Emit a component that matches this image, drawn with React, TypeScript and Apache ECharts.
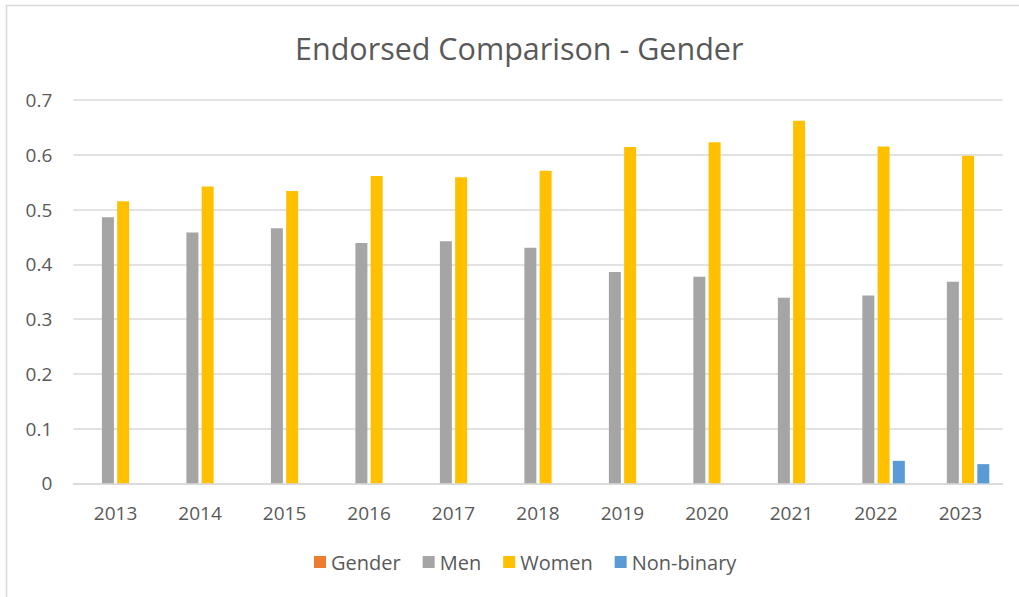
import React, { useEffect, useRef } from "react";
import * as echarts from "echarts";

const categories = ["2013", "2014", "2015", "2016", "2017", "2018", "2019", "2020", "2021", "2022", "2023"];
const genderValues: (number | null)[] = [null, null, null, null, null, null, null, null, null, null, null];
const menValues = [0.486, 0.458, 0.466, 0.439, 0.442, 0.43, 0.386, 0.377, 0.339, 0.343, 0.368];
const womenValues = [0.515, 0.542, 0.534, 0.561, 0.559, 0.571, 0.614, 0.623, 0.662, 0.615, 0.598];
const nonBinaryValues: (number | null)[] = [null, null, null, null, null, null, null, null, null, 0.041, 0.035];

const FONT = "'Open Sans', 'Noto Sans', sans-serif";
const TEXT = "#595959";

export default function App() {
  const ref = useRef<HTMLDivElement>(null);
  useEffect(() => {
    if (!ref.current) return;
    const chart = echarts.init(ref.current, undefined, { renderer: "svg" });
    const mk = (name: string, data: (number | null)[], color: string) => ({
      name,
      type: "bar",
      data,
      barWidth: 12,
      barGap: "27%",
      itemStyle: { color },
    });
    chart.setOption({
      animation: false,
      backgroundColor: "#ffffff",
      textStyle: { fontFamily: FONT },
      title: {
        text: "Endorsed Comparison - Gender",
        left: 290,
        top: 27,
        textStyle: { fontFamily: FONT, fontSize: 30.5, fontWeight: "normal", color: TEXT },
      },
      legend: {
        left: 309,
        top: 547,
        itemWidth: 12,
        itemHeight: 12,
        itemGap: 22,
        icon: "rect",
        textStyle: { fontFamily: FONT, fontSize: 20, color: TEXT },
        data: ["Gender", "Men", "Women", "Non-binary"],
      },
      grid: { left: 73.3, right: 16.3, top: 100, bottom: 113.7, containLabel: false },
      xAxis: {
        type: "category",
        data: categories,
        axisLine: { lineStyle: { color: "#D9D9D9", width: 1.5 } },
        axisTick: { show: false },
        axisLabel: { fontFamily: FONT, fontSize: 19, color: TEXT, margin: 20 },
      },
      yAxis: {
        type: "value",
        min: 0,
        max: 0.7,
        interval: 0.1,
        axisLine: { show: false },
        axisTick: { show: false },
        splitLine: { lineStyle: { color: "#D9D9D9", width: 1.5 } },
        axisLabel: {
          fontFamily: FONT,
          fontSize: 19,
          color: TEXT,
          margin: 21,
          formatter: (v: number) => (v === 0 ? "0" : v.toFixed(1)),
        },
      },
      graphic: [
        {
          type: "rect",
          shape: { x: 6.5, y: 5.5, width: 1100, height: 700 },
          style: { fill: "none", stroke: "#D9D9D9", lineWidth: 1.5 },
          silent: true,
        },
      ],
      series: [
        mk("Gender", genderValues, "#ED7D31"),
        mk("Men", menValues, "#A5A5A5"),
        mk("Women", womenValues, "#FFC000"),
        mk("Non-binary", nonBinaryValues, "#5B9BD5"),
      ],
    });
    return () => chart.dispose();
  }, []);
  return (
    <div
      ref={ref}
      style={{ position: "fixed", left: 0, top: 0, width: 1019, height: 597 }}
    />
  );
}
